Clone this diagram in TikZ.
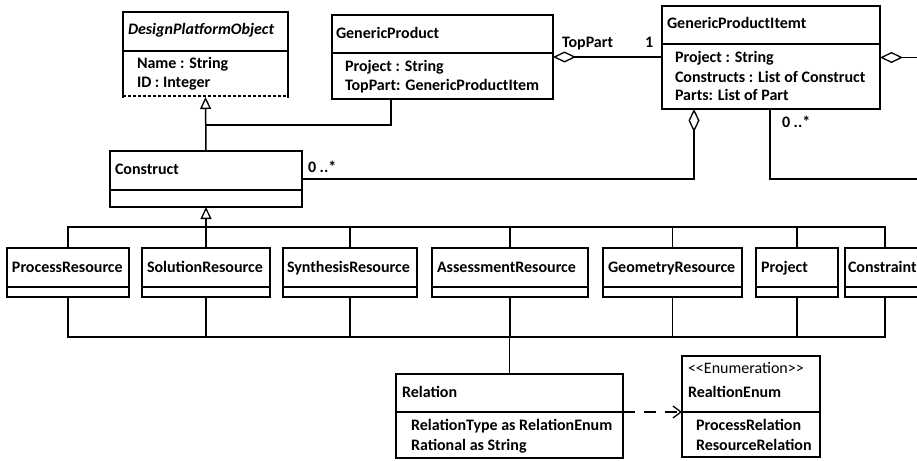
\documentclass[tikz,border=0pt]{standalone}
\usepackage{fontspec}
\setmainfont{Carlito}
\usetikzlibrary{arrows.meta,calc}
\tikzset{
  ln/.style={line width=1.5pt, line join=miter},
  box/.style={ln, draw, rectangle, inner sep=0pt, outer sep=0pt, anchor=north west},
  txt/.style={anchor=base west, inner sep=0pt, outer sep=0pt, font=\fontsize{16}{18}\selectfont\bfseries},
  gen/.style={ln, -{Triangle[open, length=12pt, width=11pt, line width=1.3pt]}},
  agg/.style={ln, {Diamond[open, length=23pt, width=11pt, line width=1.3pt]}-},
  dep/.style={ln, dash pattern=on 12pt off 9pt, -{Straight Barb[length=8pt, width=12pt, line width=1.3pt]}}
}
\newcommand\UMLbox[6]{%
  \node[box, minimum width={(#4-#2)*1pt}, minimum height={(#6-#3)*1pt}] (#1) at (#2,#3) {};
  \draw[ln] (#2,#5) -- (#4,#5);
}
\begin{document}
\begin{tikzpicture}[x=1pt,y=-1pt]
\clip (0,0) rectangle (917,460);
\fill[white] (0,0) rectangle (917,460);

% DesignPlatformObject
\node[box, draw=none, minimum width=165pt, minimum height=85pt] (dpo) at (123,12) {};
\draw[ln] (123,98) -- (123,12) -- (288,12) -- (288,98);
\draw[ln] (123,51) -- (288,51);
\draw[line width=1.1pt, dash pattern=on 3pt off 2pt] (123,96) -- (288,96);
\node[txt, font=\fontsize{16}{18}\selectfont\bfseries\itshape] (t1) at (128,35) {DesignPlatformObject};
\node[txt] (t2) at (137,68) {Name : String};
\node[txt] (t3) at (137,87) {ID : Integer};

% GenericProduct
\UMLbox{gp}{332}{15}{553}{53}{99}
\node[txt] (t4) at (336,39) {GenericProduct};
\node[txt] (t5) at (345,71) {Project : String};
\node[txt] (t6) at (345,90) {TopPart: GenericProductItem};

% GenericProductItemt
\UMLbox{gpi}{662}{6}{880}{44}{109}
\node[txt] (t7) at (667,29) {GenericProductItemt};
\node[txt] (t8) at (675,63) {Project : String};
\node[txt] (t9) at (675,82) {Constructs : List of Construct};
\node[txt] (t10) at (675,100) {Parts: List of Part};

% Construct
\UMLbox{con}{110}{151}{302}{190}{207}
\node[txt] (t11) at (115,174) {Construct};

% subclasses
\UMLbox{pr}{7}{248}{129}{287}{297}
\UMLbox{sr}{142}{248}{270}{287}{297}
\UMLbox{syr}{283}{248}{417}{287}{297}
\UMLbox{ar}{432}{248}{588}{287}{297}
\UMLbox{gr}{603}{248}{742}{287}{297}
\UMLbox{pj}{756}{248}{838}{287}{297}
\UMLbox{cs}{845}{248}{925}{287}{297}
\node[txt] (t12) at (12,272) {ProcessResource};
\node[txt] (t13) at (147,272) {SolutionResource};
\node[txt] (t14) at (287,272) {SynthesisResource};
\node[txt] (t15) at (437,272) {AssessmentResource};
\node[txt] (t16) at (608,272) {GeometryResource};
\node[txt] (t17) at (761,272) {Project};
\node[txt] (t18) at (848,272) {Constraint};

% Relation
\UMLbox{rel}{396}{374}{623}{412}{458}
\node[txt] (t19) at (402,397) {Relation};
\node[txt] (t20) at (411,430) {RelationType as RelationEnum};
\node[txt] (t21) at (411,450) {Rational as String};

% RealtionEnum
\UMLbox{enum}{682}{356}{820}{412}{457}
\node[txt, font=\fontsize{16}{18}\selectfont] (t22) at (688,373) {<{}<Enumeration>{}>};
\node[txt] (t23) at (688,397) {RealtionEnum};
\node[txt] (t24) at (696,430) {ProcessRelation};
\node[txt] (t25) at (696,450) {ResourceRelation};

% labels
\node[txt] (l1) at (562,48) {TopPart};
\node[txt] (l2) at (645,48) {1};
\node[txt] (l3) at (782,127) {0 ..*};
\node[txt] (l4) at (308,172) {0 ..*};

% coordinates
\coordinate (j1) at (206,125);
\coordinate (gpb) at (391,99);
\coordinate (gpia) at (694,109);
\coordinate (gpib) at (770,109);
\coordinate (offA) at (930,58);
\coordinate (offB) at (930,179);
\coordinate (hub) at (206,227);
\coordinate (bl) at (68,337);
\coordinate (br) at (885,337);

% connectors
\draw[gen] (con.north) -- (dpo.south);
\draw[ln] (gpb) |- (j1);
\draw[agg] (gp.east) -- (gp.east -| gpi.west);
\draw[agg] (gpi.east) -- (gpi.east -| offA);
\draw[agg] (gpia) |- (con.east);
\draw[ln] (gpib) |- (offB);

\draw[gen] (hub) -- (con.south);
\draw[ln] (pr.north) |- (hub) -| (cs.north);
\draw[ln] (syr.north) -- (syr.north |- hub);
\draw[ln] (ar.north) -- (ar.north |- hub);
\draw[ln] (gr.north) -- (gr.north |- hub);
\draw[ln] (pj.north) -- (pj.north |- hub);
\draw[ln] (sr.north) -- (hub);

\draw[ln] (pr.south) |- (bl) -- (br) -| (cs.south);
\draw[ln] (sr.south) -- (sr.south |- bl);
\draw[ln] (syr.south) -- (syr.south |- bl);
\draw[ln] (ar.south) -- (ar.south |- bl);
\draw[ln] (gr.south) -- (gr.south |- bl);
\draw[ln] (pj.south) -- (pj.south |- bl);
\draw[ln] (rel.north) -- (rel.north |- bl);

\draw[dep] (rel.east |- 0,412) -- (enum.west |- 0,412);
\end{tikzpicture}
\end{document}
